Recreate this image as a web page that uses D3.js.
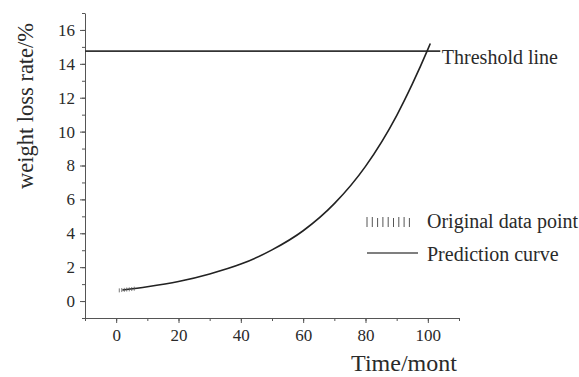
<!DOCTYPE html>
<html>
<head>
<style>
  body { margin: 0; background: #fff; }
  svg text { font-family: "Liberation Serif", "DejaVu Serif", serif; fill: #2a2a2a; }
  .axis path, .axis line { stroke: #555; }
</style>
</head>
<body>
<script src="https://d3js.org/d3.v7.min.js"></script>
<script>
// values
const curveX = [2, 10, 20, 30, 40, 50, 60, 70, 80, 90, 95, 100, 100.8];
const curveY = [0.65, 0.84, 1.15, 1.6, 2.18, 3.02, 4.15, 5.75, 7.95, 10.95, 12.8, 14.85, 15.2];
const dataX = [1, 1.8, 2.6, 3.4, 4.2, 5.0, 5.8];
const dataY = [0.63, 0.65, 0.66, 0.68, 0.69, 0.71, 0.73];
const threshold = 14.75;
const xTicks = [0, 20, 40, 60, 80, 100];
const yTicks = [0, 2, 4, 6, 8, 10, 12, 14, 16];
const legendNames = ["Original data point", "Prediction curve"];

const W = 579, H = 377;
const serif = '"Liberation Serif", "DejaVu Serif", serif';
const svg = d3.select("body").append("svg").attr("width", W).attr("height", H);

const x = d3.scaleLinear().domain([-10, 110]).range([85, 459]);
const y = d3.scaleLinear().domain([-1, 17]).range([318, 13]);

// minor ticks first
svg.append("g").attr("class", "axis")
  .attr("transform", `translate(0,${y(-1)})`)
  .call(d3.axisBottom(x).tickValues(d3.range(-10, 111, 10)).tickSize(3).tickFormat(""))
  .call(g => g.select(".domain").remove());
svg.append("g").attr("class", "axis")
  .attr("transform", `translate(${x(-10)},0)`)
  .call(d3.axisLeft(y).tickValues(d3.range(-1, 18, 1)).tickSize(3).tickFormat(""))
  .call(g => g.select(".domain").remove());

const xAxis = svg.append("g").attr("class", "axis")
  .attr("transform", `translate(0,${y(-1)})`)
  .call(d3.axisBottom(x).tickValues(xTicks).tickSize(5).tickSizeOuter(0).tickPadding(6));
xAxis.attr("font-family", serif);
xAxis.selectAll("text").style("font-family", serif).style("font-size", "17px");

const yAxis = svg.append("g").attr("class", "axis")
  .attr("transform", `translate(${x(-10)},0)`)
  .call(d3.axisLeft(y).tickValues(yTicks).tickSize(5).tickSizeOuter(0).tickPadding(5));
yAxis.attr("font-family", serif);
yAxis.selectAll("text").style("font-family", serif).style("font-size", "17px");

// threshold line
svg.append("line")
  .attr("x1", x(-10)).attr("x2", x(104))
  .attr("y1", y(threshold)).attr("y2", y(threshold))
  .attr("stroke", "#333").attr("stroke-width", 1.6);
svg.append("text").attr("x", x(104.5)).attr("y", y(threshold) + 13)
  .style("font-size", "20px").text("Threshold line");

// prediction curve
const pts = curveX.map((d, i) => [d, curveY[i]]);
svg.append("path")
  .attr("d", d3.line().x(d => x(d[0])).y(d => y(d[1])).curve(d3.curveMonotoneX)(pts))
  .attr("fill", "none").attr("stroke", "#222").attr("stroke-width", 1.6);

// original data points as short vertical bars
svg.selectAll(".pt").data(dataX).enter().append("line")
  .attr("x1", d => x(d)).attr("x2", d => x(d))
  .attr("y1", (d, i) => y(dataY[i]) - 2).attr("y2", (d, i) => y(dataY[i]) + 2)
  .attr("stroke", "#555").attr("stroke-width", 0.8);

// legend
const lg = svg.append("g");
const barX = d3.range(9).map(i => 367 + i * 5.3);
lg.selectAll("line.b").data(barX).enter().append("line")
  .attr("x1", d => d).attr("x2", d => d)
  .attr("y1", (d, i) => 217 + (i % 3 === 2 ? 1 : 0)).attr("y2", 227)
  .attr("stroke", "#555").attr("stroke-width", 1);
lg.append("line").attr("x1", 367).attr("x2", 418).attr("y1", 253).attr("y2", 253)
  .attr("stroke", "#555").attr("stroke-width", 1.6);
lg.selectAll("text").data(legendNames).enter().append("text")
  .attr("x", 427).attr("y", (d, i) => 228 + i * 33)
  .style("font-size", "20px").text(d => d);

// axis titles
svg.append("text").attr("x", 404).attr("y", 371).attr("text-anchor", "middle")
  .style("font-size", "24px").text("Time/mont");
svg.append("text").attr("transform", `translate(33,106) rotate(-90)`)
  .attr("text-anchor", "middle").style("font-size", "22.5px").text("weight loss rate/%");
</script>
</body>
</html>
